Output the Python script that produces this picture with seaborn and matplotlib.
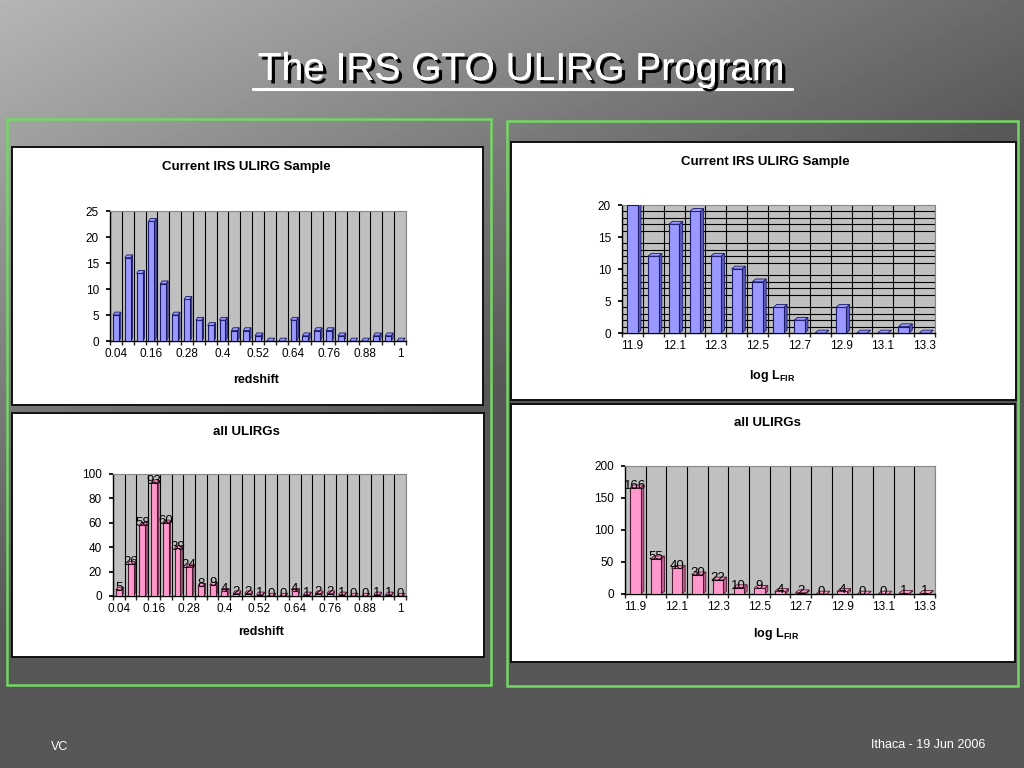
import numpy as np
import matplotlib
matplotlib.use("Agg")
import matplotlib.pyplot as plt
import matplotlib.patheffects as pe
from matplotlib.patches import Rectangle, Polygon
from matplotlib.lines import Line2D
from matplotlib.ticker import MultipleLocator, FixedLocator
import seaborn as sns

# ---------------- datos ----------------
z_bins = ["0.04", "0.08", "0.12", "0.16", "0.2", "0.24", "0.28", "0.32", "0.36", "0.4",
          "0.44", "0.48", "0.52", "0.56", "0.6", "0.64", "0.68", "0.72", "0.76", "0.8",
          "0.84", "0.88", "0.92", "0.96", "1"]
z_irs = [5, 16, 13, 23, 11, 5, 8, 4, 3, 4, 2, 2, 1, 0, 0, 4, 1, 2, 2, 1, 0, 0, 1, 1, 0]
z_all = [5, 26, 58, 93, 60, 39, 24, 8, 9, 4, 2, 2, 1, 0, 0, 4, 1, 2, 2, 1, 0, 0, 1, 1, 0]

l_bins = ["11.9", "12", "12.1", "12.2", "12.3", "12.4", "12.5", "12.6", "12.7", "12.8",
          "12.9", "13", "13.1", "13.2", "13.3"]
l_irs = [20, 12, 17, 19, 12, 10, 8, 4, 2, 0, 4, 0, 0, 1, 0]
l_all = [166, 55, 40, 30, 22, 10, 9, 4, 2, 0, 4, 0, 0, 1, 1]

sns.set_theme(style="white")
plt.rcParams['font.family'] = ['Liberation Sans', 'DejaVu Sans']
plt.rcParams['mathtext.fontset'] = 'custom'
plt.rcParams['mathtext.bf'] = 'Liberation Sans:bold'
plt.rcParams['mathtext.rm'] = 'Liberation Sans'

W, H = 1024, 768
fig = plt.figure(figsize=(W / 100, H / 100), dpi=100)


def caja(x0, y0, x1, y1):
    # pixeles (y desde arriba) -> fracciones de figura
    return [x0 / W, 1 - y1 / H, (x1 - x0) / W, (y1 - y0) / H]


# fondo degradado
bg = fig.add_axes([0, 0, 1, 1])
bg.set_zorder(-5)
xx, yy = np.meshgrid(np.linspace(0, 1, 256), np.linspace(0, 1, 256))
t = np.clip(0.8 * xx + 1.2 * yy, 0, 1)
bg.imshow(0.71 - 0.37 * t, cmap="gray", vmin=0, vmax=1, aspect="auto",
          extent=[0, 1, 0, 1], origin="upper")
bg.set_xlim(0, 1)
bg.set_ylim(0, 1)
bg.axis("off")

# marcos verdes y paneles blancos
for x0, y0, x1, y1 in [(7, 119, 491, 685), (507, 121, 1018, 686)]:
    r = caja(x0, y0, x1, y1)
    fig.add_artist(Rectangle((r[0], r[1]), r[2], r[3], transform=fig.transFigure,
                             fill=False, edgecolor="#72d862", lw=1.8, zorder=-2))
for x0, y0, x1, y1 in [(12, 147, 483, 405), (12, 413, 484, 657),
                       (511, 142, 1016, 400), (511, 404, 1015, 662)]:
    r = caja(x0, y0, x1, y1)
    fig.add_artist(Rectangle((r[0], r[1]), r[2], r[3], transform=fig.transFigure,
                             facecolor="white", edgecolor="#111111", lw=1.4, zorder=-1))

# titulo principal
sombra = [pe.withSimplePatchShadow(offset=(2.5, -2.5), shadow_rgbFace="black", alpha=1.0),
          pe.Normal()]
fig.text(521 / W, 1 - 70 / H, "The IRS GTO ULIRG Program", color="white", fontsize=28,
         ha="center", va="center", path_effects=sombra)
fig.add_artist(Line2D([253 / W, 792 / W], [1 - 89 / H, 1 - 89 / H], transform=fig.transFigure,
                      color="white", lw=2.2, path_effects=sombra))

fig.text(60 / W, 1 - 747 / H, "VC", color="white", fontsize=9, ha="center", va="center")
fig.text(985 / W, 1 - 745 / H, "Ithaca - 19 Jun 2006", color="white", fontsize=9,
         ha="right", va="center")


def grafica(pos, cats, vals, ymax, ystep, ygrid, cara, lado, borde, cada,
            titulo, tpos, xlab, xpos, etiquetas=False):
    ax = fig.add_axes(caja(*pos))
    ax.set_facecolor("#c0c0c0")
    sns.barplot(x=cats, y=vals, color=cara, saturation=1, width=0.5,
                edgecolor=borde, linewidth=0.8, ax=ax, zorder=3)
    dx, dy = 0.16, 0.022 * ymax
    for p, v in zip(ax.patches, vals):
        x0, x1, h = p.get_x(), p.get_x() + p.get_width(), p.get_height()
        ax.add_patch(Polygon([(x1, 0), (x1, h), (x1 + dx, h + dy), (x1 + dx, dy)],
                             closed=True, facecolor=lado, edgecolor=borde, lw=0.6, zorder=2.9))
        ax.add_patch(Polygon([(x0, h), (x1, h), (x1 + dx, h + dy), (x0 + dx, h + dy)],
                             closed=True, facecolor=cara, edgecolor=borde, lw=0.6, zorder=3.1))
        if etiquetas:
            ax.text(p.get_x() + p.get_width() / 2, h + 0.015 * ymax, str(v), ha="center",
                    va="center", fontsize=9.5, color="black", zorder=5)
    n = len(cats)
    ax.set_xlim(-0.5, n - 0.5)
    ax.set_ylim(0, ymax)
    ax.yaxis.set_major_locator(MultipleLocator(ystep))
    ax.yaxis.set_minor_locator(MultipleLocator(ygrid))
    ax.xaxis.set_major_locator(FixedLocator(list(range(0, n, cada))))
    ax.set_xticklabels([cats[i] for i in range(0, n, cada)])
    ax.xaxis.set_minor_locator(FixedLocator([i + 0.5 for i in range(-1, n)]))
    ax.grid(which="minor", axis="both", color="black", lw=0.8, zorder=0)
    ax.tick_params(axis="both", which="major", labelsize=8.5, colors="black", length=0, pad=5)
    ax.tick_params(axis="y", which="major", length=3, left=True)
    ax.tick_params(axis="x", which="minor", length=3, bottom=True)
    ax.set_axisbelow(True)
    for s in ["top", "right"]:
        ax.spines[s].set_color("#888888")
        ax.spines[s].set_linewidth(0.8)
    for s in ["left", "bottom"]:
        ax.spines[s].set_color("black")
        ax.spines[s].set_linewidth(1.0)
    ax.set_xlabel("")
    ax.set_ylabel("")
    fig.text(tpos[0] / W, 1 - tpos[1] / H, titulo, fontsize=9.5, fontweight="bold",
             ha="center", va="center", color="black")
    fig.text(xpos[0] / W, 1 - xpos[1] / H, xlab, fontsize=9, fontweight="bold",
             ha="center", va="center", color="black")
    return ax


azul, azul_l, azul_b = "#9999ff", "#5c5cc0", "#1a1a66"
rosa, rosa_l, rosa_b = "#ff99cc", "#c0608e", "#4d1a33"
lfir = r"$\mathbf{log\ L}_{\mathbf{FIR}}$"

grafica((110, 211, 406, 341), z_bins, z_irs, 25, 5, 5, azul, azul_l, azul_b, 3,
        "Current IRS ULIRG Sample", (246, 167), "redshift", (256, 380))
grafica((113, 474, 406, 596), z_bins, z_all, 100, 20, 20, rosa, rosa_l, rosa_b, 3,
        "all ULIRGs", (246, 432), "redshift", (261, 632), etiquetas=True)
grafica((622, 205, 935, 333), l_bins, l_irs, 20, 5, 1, azul, azul_l, azul_b, 2,
        "Current IRS ULIRG Sample", (765, 162), lfir, (772, 376))
grafica((625, 466, 935, 594), l_bins, l_all, 200, 50, 50, rosa, rosa_l, rosa_b, 2,
        "all ULIRGs", (767, 423), lfir, (776, 634), etiquetas=True)

fig.savefig("out.png", dpi=100)
